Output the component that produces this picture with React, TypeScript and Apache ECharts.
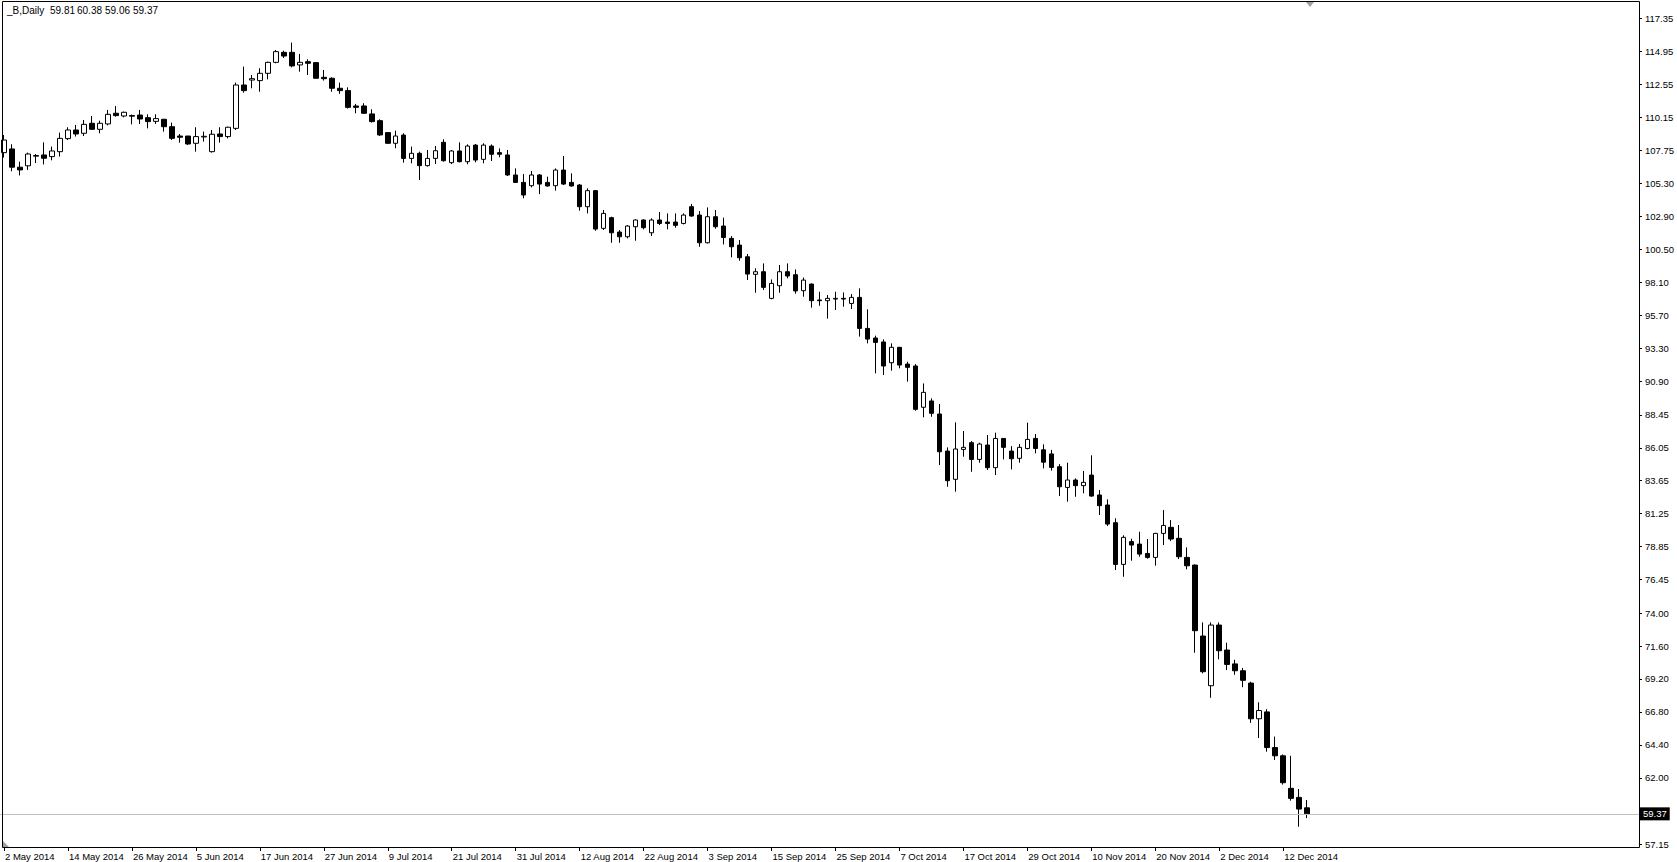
import React, { useEffect, useRef } from "react";
import * as echarts from "echarts";

// ---- data ----
const symbolTitle = "_B,Daily";
const lastQuote = ["59.81", "60.38", "59.06", "59.37"];
const bidPrice = 59.37;

const opens = [
  107.56, 107.83, 106.5, 106.6, 107.3, 107.39, 107.27, 107.63, 108.58, 109.21,
  108.97, 109.7, 109.26, 109.65, 110.43, 110.23, 110.26, 110.3, 110.11, 109.84,
  109.99, 109.45, 108.77, 108.77, 108.24, 108.7, 107.63, 108.92, 108.73, 109.33,
  112.49, 112.85, 112.81, 113.34, 114.14, 114.87, 114.87, 113.95, 114.19, 114.12,
  113.05, 112.98, 112.25, 112.08, 110.96, 110.96, 110.38, 109.89, 109.02, 108.24,
  108.84, 107.14, 107.51, 106.61, 107.14, 108.31, 106.83, 107.68, 106.9, 108.11,
  107.07, 108.04, 107.56, 107.39, 105.93, 105.39, 105.15, 105.93, 105.39, 105.15,
  106.29, 105.39, 105.2, 103.62, 104.79, 102.04, 102.82, 101.77, 101.43, 102.16,
  102.65, 101.72, 102.65, 102.5, 102.5, 102.4, 103.62, 103.01, 100.99, 102.89,
  102.21, 101.31, 100.82, 99.97, 98.69, 98.88, 96.94, 97.86, 98.88, 98.66,
  97.5, 97.98, 96.82, 96.77, 96.89, 96.94, 96.57, 97.01, 94.75, 94.05,
  93.76, 92.25, 93.37, 92.15, 92.01, 89.0, 89.46, 88.51, 85.81, 83.75,
  85.93, 86.42, 85.2, 86.25, 84.6, 86.73, 85.81, 85.28, 86.0, 86.73,
  85.9, 85.6, 84.67, 83.16, 83.7, 83.29, 84.06, 82.61, 81.88, 80.59,
  77.55, 79.21, 79.03, 78.35, 78.06, 79.81, 80.25, 79.45, 78.06, 77.5,
  72.33, 68.71, 73.13, 71.31, 70.3, 69.8, 68.9, 66.3, 66.8, 64.2,
  63.6, 61.23, 60.57, 59.81,
];
const highs = [
  108.85, 108.17, 106.9, 107.56, 107.46, 108.31, 108.0, 109.02, 109.41, 109.58,
  109.94, 110.23, 109.89, 110.67, 110.96, 110.55, 110.33, 110.67, 110.35, 110.35,
  110.02, 109.75, 108.92, 108.77, 109.41, 109.09, 109.21, 109.41, 109.45, 112.66,
  113.83, 113.22, 113.71, 114.19, 115.04, 114.99, 115.58, 114.75, 114.36, 114.15,
  113.58, 113.05, 112.66, 112.32, 111.11, 111.16, 110.72, 109.99, 109.05, 109.16,
  108.97, 108.0, 107.63, 107.75, 108.04, 108.53, 107.75, 108.31, 108.16, 108.19,
  108.24, 108.16, 107.87, 107.75, 106.41, 106.0, 106.22, 106.0, 105.81, 106.41,
  107.31, 106.05, 105.27, 104.96, 104.84, 103.38, 102.89, 101.92, 102.28, 102.7,
  102.7, 102.77, 103.23, 103.13, 103.13, 103.13, 103.82, 103.3, 103.57, 103.38,
  102.82, 101.48, 101.19, 100.17, 99.13, 99.49, 98.32, 99.37, 99.49, 99.05,
  98.46, 98.03, 97.42, 97.18, 97.42, 97.37, 97.25, 97.67, 96.14, 94.22,
  93.95, 93.66, 93.4, 92.32, 92.15, 90.74, 89.65, 89.24, 86.08, 87.9,
  87.27, 86.54, 86.42, 86.98, 87.15, 86.76, 86.17, 86.32, 87.88, 87.05,
  86.3, 85.9, 84.86, 84.96, 83.82, 84.36, 85.5, 82.97, 82.29, 80.91,
  79.67, 79.42, 79.93, 79.4, 79.85, 81.51, 80.78, 80.42, 78.79, 77.55,
  73.32, 73.32, 73.32, 71.84, 70.6, 70.0, 69.0, 67.5, 67.0, 65.0,
  63.7, 63.6, 61.18, 60.38,
];
const lows = [
  107.2, 106.2, 105.9, 106.3, 106.8, 106.7, 107.0, 107.27, 108.48, 108.73,
  108.77, 109.21, 108.97, 109.55, 110.18, 110.13, 109.62, 109.65, 109.33, 109.65,
  109.09, 108.48, 108.29, 108.12, 107.63, 108.36, 107.56, 108.29, 108.6, 109.21,
  111.93, 112.25, 112.0, 112.9, 114.07, 114.46, 113.78, 113.46, 113.22, 112.95,
  112.81, 112.0, 111.84, 110.77, 110.43, 110.38, 109.75, 108.77, 108.19, 107.88,
  106.83, 106.78, 105.56, 106.54, 106.73, 106.9, 106.73, 106.85, 106.71, 106.85,
  106.78, 106.95, 107.22, 105.86, 105.35, 104.23, 105.03, 104.54, 105.08, 104.79,
  105.2, 105.08, 103.33, 103.13, 101.87, 101.92, 100.99, 100.99, 101.31, 101.14,
  101.97, 101.48, 102.28, 101.97, 102.09, 102.33, 102.89, 100.7, 100.94, 102.02,
  100.87, 99.93, 99.68, 98.28, 97.35, 97.55, 96.87, 97.35, 98.4, 97.28,
  97.06, 96.26, 96.4, 95.46, 96.09, 96.33, 96.16, 94.15, 93.66, 91.47,
  91.35, 91.67, 91.84, 90.87, 88.75, 88.27, 88.31, 84.79, 83.21, 82.85,
  85.4, 84.3, 84.96, 84.43, 84.06, 85.2, 84.47, 84.96, 85.93, 85.64,
  84.55, 84.38, 82.53, 82.12, 82.48, 82.73, 82.48, 81.15, 80.35, 77.14,
  76.65, 77.82, 78.11, 77.96, 77.46, 78.96, 79.25, 77.94, 77.19, 71.11,
  69.61, 67.83, 70.63, 69.85, 69.5, 68.6, 66.0, 64.9, 63.9, 63.3,
  61.5, 60.33, 58.43, 59.06,
];
const closes = [
  108.48, 106.5, 106.3, 107.46, 107.35, 107.15, 107.68, 108.6, 109.21, 108.92,
  109.62, 109.26, 109.7, 110.35, 110.26, 110.5, 110.22, 110.01, 109.82, 110.04,
  109.45, 108.6, 108.68, 108.19, 108.73, 108.75, 108.9, 108.73, 109.41, 112.49,
  112.08, 112.95, 113.34, 114.14, 114.92, 114.6, 113.88, 114.14, 114.07, 112.98,
  112.95, 112.25, 112.08, 110.86, 110.86, 110.43, 109.82, 108.85, 108.24, 108.77,
  107.14, 107.51, 106.61, 107.14, 107.7, 106.97, 107.68, 106.9, 108.04, 107.02,
  108.11, 107.44, 107.44, 105.93, 105.39, 104.47, 105.93, 105.27, 105.13, 106.29,
  105.27, 105.13, 103.62, 104.79, 101.99, 103.13, 101.72, 101.43, 102.21, 102.65,
  102.09, 102.65, 102.4, 102.4, 102.26, 103.01, 102.94, 100.99, 102.89, 102.16,
  101.38, 100.7, 99.9, 98.71, 98.88, 97.74, 98.03, 98.88, 98.57, 97.48,
  98.27, 96.77, 96.77, 96.94, 96.94, 96.89, 97.01, 94.75, 93.97, 93.73,
  92.01, 93.37, 92.08, 91.91, 88.85, 90.09, 88.56, 85.76, 83.65, 85.96,
  86.08, 85.2, 86.32, 84.6, 86.73, 86.08, 85.25, 86.08, 86.66, 86.0,
  85.0, 84.62, 83.21, 83.7, 83.29, 83.53, 82.53, 81.83, 80.49, 77.55,
  79.52, 78.96, 78.3, 78.06, 79.81, 80.39, 79.4, 78.11, 77.45, 72.72,
  69.73, 73.13, 71.26, 70.26, 69.8, 69.1, 66.3, 66.9, 64.2, 63.6,
  61.64, 60.5, 59.72, 59.37,
];

const yTickValues = [
  117.35, 114.95, 112.55, 110.15, 107.75, 105.3, 102.9, 100.5, 98.1, 95.7,
  93.3, 90.9, 88.45, 86.05, 83.65, 81.25, 78.85, 76.45, 74.0, 71.6,
  69.2, 66.8, 64.4, 62.0, 57.15,
];

const monthNames = ["Jan", "Feb", "Mar", "Apr", "May", "Jun", "Jul", "Aug", "Sep", "Oct", "Nov", "Dec"];
const firstBarDate = [2014, 4, 2];
const labelEvery = 8;
const totalSlots = 205; // visible bar slots including the empty right margin

function tradingDays(count: number): string[] {
  const out: string[] = [];
  const d = new Date(firstBarDate[0], firstBarDate[1], firstBarDate[2]);
  while (out.length < count) {
    const wd = d.getDay();
    if (wd !== 0 && wd !== 6) {
      out.push(`${d.getDate()} ${monthNames[d.getMonth()]} ${d.getFullYear()}`);
    }
    d.setDate(d.getDate() + 1);
  }
  return out;
}

const categories = tradingDays(totalSlots);

export default function App() {
  const ref = useRef<HTMLDivElement>(null);

  useEffect(() => {
    if (!ref.current) return;
    const chart = echarts.init(ref.current, null, { renderer: "svg" });
    const n = closes.length;
    const candleData = closes.map((c, i) => [opens[i], c, lows[i], highs[i]]);
    const font = "Liberation Sans";
    const fs = 9.5;
    const showLabel = (i: number) => i % labelEvery === 0 && i < n;

    const quoteX = [50, 77, 105, 133];
    const titleTexts = [
      { text: symbolTitle, x: 7 },
      ...lastQuote.map((q, i) => ({ text: q, x: quoteX[i] })),
    ].map((t) => ({
      type: "text",
      x: t.x,
      y: 5,
      silent: true,
      z: 100,
      style: {
        text: t.text,
        fill: "#000",
        fontFamily: font,
        fontSize: 10,
        verticalAlign: "top",
      },
    }));

    chart.setOption({
      animation: false,
      backgroundColor: "#ffffff",
      textStyle: { fontFamily: font },
      grid: { left: -1, right: 38, top: 2, bottom: 15, containLabel: false },
      xAxis: {
        type: "category",
        data: categories,
        boundaryGap: true,
        axisLine: { show: false },
        axisTick: {
          show: true,
          alignWithLabel: true,
          interval: (i: number) => showLabel(i),
          length: 4,
          lineStyle: { color: "#000", width: 1 },
        },
        axisLabel: {
          show: true,
          interval: (i: number) => showLabel(i),
          align: "left",
          margin: 4,
          color: "#000",
          fontFamily: font,
          fontSize: fs,
          padding: [0, 0, 0, 1],
        },
        splitLine: { show: false },
      },
      yAxis: {
        type: "value",
        position: "right",
        min: 56.954,
        max: 118.538,
        scale: true,
        axisLine: { show: false },
        axisTick: {
          show: true,
          inside: false,
          length: 3,
          customValues: yTickValues,
          lineStyle: { color: "#000", width: 1 },
        },
        axisLabel: {
          show: true,
          customValues: yTickValues,
          formatter: (v: number) => v.toFixed(2),
          color: "#000",
          fontFamily: font,
          fontSize: fs,
          margin: 6,
        },
        splitLine: { show: false },
      },
      series: [
        {
          type: "candlestick",
          data: candleData,
          barWidth: 5,
          clip: true,
          itemStyle: {
            color: "#ffffff",
            color0: "#000000",
            borderColor: "#000000",
            borderColor0: "#000000",
            borderWidth: 1,
          },
          emphasis: { disabled: true },
          markLine: {
            silent: true,
            symbol: ["none", "none"],
            animation: false,
            emphasis: { disabled: true },
            lineStyle: { color: "#c0c0c0", width: 1, type: "solid" },
            label: {
              show: true,
              position: "end",
              distance: 1,
              formatter: bidPrice.toFixed(2),
              color: "#ffffff",
              backgroundColor: "#000000",
              padding: [2, 3, 1, 3],
              fontFamily: font,
              fontSize: fs,
            },
            data: [{ yAxis: bidPrice }],
          },
        },
      ],
      graphic: [
        {
          type: "rect",
          shape: { x: 2.5, y: 1.5, width: 1637, height: 846 },
          style: { fill: "none", stroke: "#000", lineWidth: 1 },
          silent: true,
          z: 100,
        },
        ...titleTexts,
        {
          type: "polygon",
          shape: { points: [[1306, 2], [1314, 2], [1310, 7]] },
          style: { fill: "#a0a0a0" },
          silent: true,
          z: 100,
        },
        {
          type: "polygon",
          shape: { points: [[3, 841], [3, 847], [9, 847]] },
          style: { fill: "#a0a0a0" },
          silent: true,
          z: 100,
        },
      ],
    });

    return () => chart.dispose();
  }, []);

  return (
    <div
      ref={ref}
      style={{ position: "fixed", left: 0, top: 0, width: 1677, height: 862, background: "#fff" }}
    />
  );
}
